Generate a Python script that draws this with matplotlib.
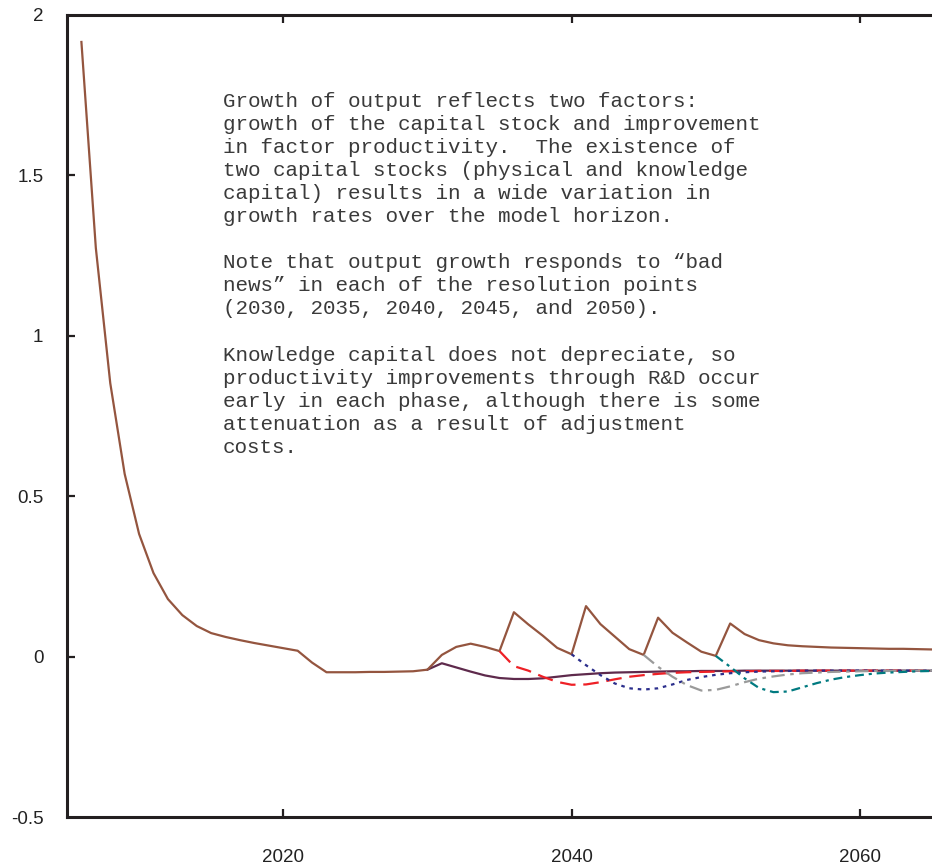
import numpy as np
import matplotlib
matplotlib.use("Agg")
import matplotlib.pyplot as plt

# ---- data ----
years_base = list(range(2006, 2066))
base = [1.916, 1.274, 0.853, 0.570, 0.383, 0.261, 0.180, 0.130, 0.096, 0.074,
        0.062, 0.052, 0.043, 0.035, 0.027, 0.019, -0.018, -0.048, -0.048, -0.048,
        -0.047, -0.047, -0.046, -0.045, -0.040, 0.006, 0.031, 0.041, 0.031, 0.018,
        0.139, 0.101, 0.066, 0.028, 0.008, 0.158, 0.102, 0.063, 0.024, 0.006,
        0.122, 0.075, 0.045, 0.016, 0.003, 0.104, 0.071, 0.052, 0.042, 0.036,
        0.033, 0.031, 0.029, 0.028, 0.027, 0.026, 0.025, 0.025, 0.024, 0.023]

years_2030 = list(range(2030, 2066))
bad_2030 = [-0.040, -0.020, -0.033, -0.046, -0.058, -0.066, -0.069, -0.069, -0.067, -0.062,
            -0.057, -0.054, -0.051, -0.049, -0.048, -0.047, -0.046, -0.045, -0.045, -0.044,
            -0.044, -0.044, -0.043, -0.043, -0.043, -0.043, -0.043, -0.043, -0.043, -0.043,
            -0.043, -0.043, -0.043, -0.043, -0.043, -0.043]

years_2035 = list(range(2035, 2066))
bad_2035 = [0.018, -0.029, -0.043, -0.062, -0.078, -0.087, -0.086, -0.079, -0.070, -0.062,
            -0.057, -0.053, -0.050, -0.048, -0.047, -0.046, -0.045, -0.045, -0.044, -0.044,
            -0.044, -0.043, -0.043, -0.043, -0.043, -0.043, -0.043, -0.043, -0.043, -0.043,
            -0.043]

years_2040 = list(range(2040, 2066))
bad_2040 = [0.008, -0.026, -0.057, -0.083, -0.098, -0.102, -0.098, -0.086, -0.072, -0.063,
            -0.056, -0.051, -0.048, -0.046, -0.045, -0.044, -0.043, -0.043, -0.043, -0.043,
            -0.043, -0.043, -0.043, -0.043, -0.043, -0.043]

years_2045 = list(range(2045, 2066))
bad_2045 = [0.006, -0.031, -0.062, -0.088, -0.105, -0.103, -0.092, -0.079, -0.068, -0.061,
            -0.055, -0.051, -0.049, -0.047, -0.046, -0.045, -0.044, -0.044, -0.043, -0.043,
            -0.043]

years_2050 = list(range(2050, 2066))
bad_2050 = [0.003, -0.031, -0.067, -0.097, -0.110, -0.108, -0.095, -0.082, -0.071, -0.063,
            -0.057, -0.052, -0.049, -0.047, -0.045, -0.044]

x_ticks = [2020, 2040, 2060]
y_ticks = [-0.5, 0, 0.5, 1, 1.5, 2]
y_tick_labels = ["-0.5", "0", "0.5", "1", "1.5", "2"]

note = ("Growth of output reflects two factors:\n"
        "growth of the capital stock and improvement\n"
        "in factor productivity.  The existence of\n"
        "two capital stocks (physical and knowledge\n"
        "capital) results in a wide variation in\n"
        "growth rates over the model horizon.\n"
        "\n"
        "Note that output growth responds to \u201cbad\n"
        "news\u201d in each of the resolution points\n"
        "(2030, 2035, 2040, 2045, and 2050).\n"
        "\n"
        "Knowledge capital does not depreciate, so\n"
        "productivity improvements through R&D occur\n"
        "early in each phase, although there is some\n"
        "attenuation as a result of adjustment\n"
        "costs.")

# ---- figure ----
fig = plt.figure(figsize=(9.32, 8.66), dpi=100)
ax = fig.add_axes([67/932, (866-817.3)/866, 1 - 67/932, (817.3-15)/866])

lw = 1.6
ax.plot(years_2030, bad_2030, color="#5E2A4C", lw=lw, zorder=2)
ax.plot(years_base, base, color="#94553F", lw=lw, zorder=3)
ax.plot(years_2035, bad_2035, color="#EE2026", lw=lw, dashes=(7, 3.5), zorder=4)
ax.plot(years_2040, bad_2040, color="#2B2E8C", lw=lw, dashes=(1.6, 2.2), zorder=4)
ax.plot(years_2045, bad_2045, color="#9A9A9A", lw=lw, dashes=(6, 2.5, 1.6, 2.5), zorder=4)
ax.plot(years_2050, bad_2050, color="#007A80", lw=lw, dashes=(4, 2.2, 1.4, 2.2), zorder=4)

ax.set_xlim(2005, 2065)
ax.set_ylim(-0.5, 2)

spine_col = "#231F20"
for s in ["left", "top", "bottom"]:
    ax.spines[s].set_linewidth(2.2)
    ax.spines[s].set_color(spine_col)
ax.spines["right"].set_visible(False)

ax.set_xticks(x_ticks)
ax.set_xticklabels([str(v) for v in x_ticks])
ax.set_yticks(y_ticks)
ax.set_yticklabels(y_tick_labels)
ax.tick_params(axis="x", direction="in", length=6, width=1.6, color=spine_col,
               top=True, bottom=True, labelsize=13.5, pad=22.5, labelcolor="#222222")
ax.tick_params(axis="y", direction="in", length=6, width=1.6, color=spine_col,
               left=True, right=False, labelsize=13.5, pad=17, labelcolor="#222222")
for lab in ax.get_xticklabels() + ax.get_yticklabels():
    lab.set_fontfamily("Liberation Sans")
for t in ax.yaxis.get_major_ticks():
    if t.get_loc() in (-0.5, 2):
        t.tick1line.set_visible(False)

ax.text((223 - 67)/(932 - 67), 1 - (92 - 15)/(817.3 - 15), note, transform=ax.transAxes,
        fontfamily="Liberation Mono", fontsize=15.0, color="#3a3a3a",
        va="top", ha="left", linespacing=1.27)

fig.savefig("out.png", dpi=100)
